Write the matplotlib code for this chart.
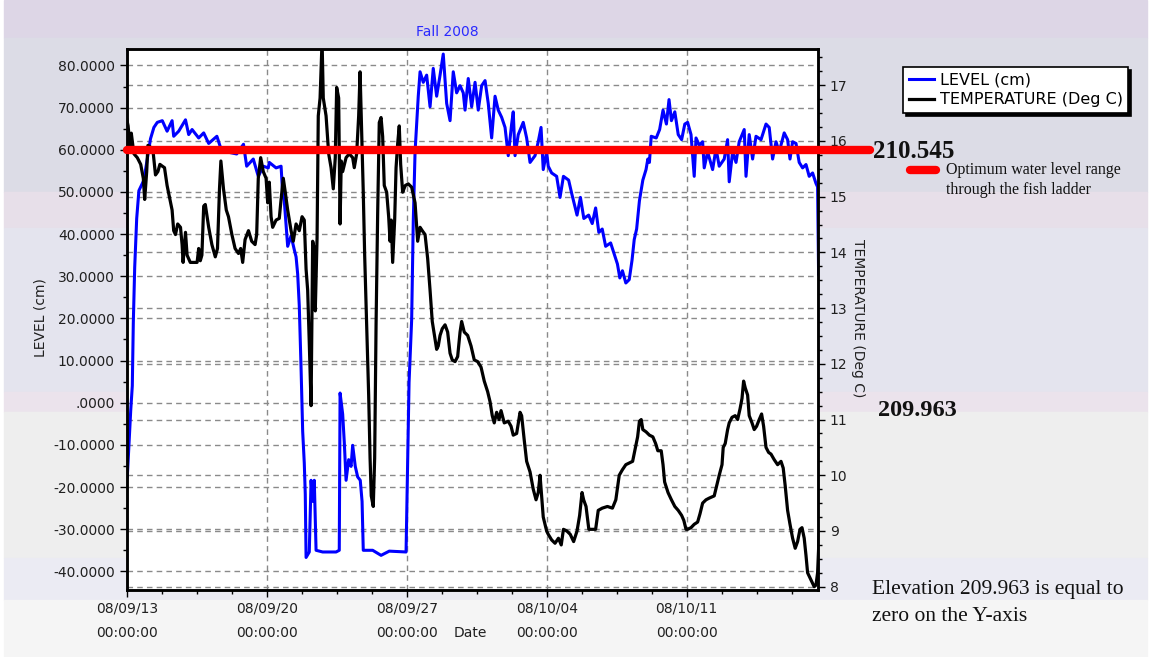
import numpy as np
import pandas as pd
import matplotlib
matplotlib.use('Agg')
import matplotlib.pyplot as plt
import matplotlib.dates as mdates
from matplotlib.patches import Rectangle
from matplotlib.lines import Line2D
from matplotlib.ticker import MultipleLocator, FixedLocator, FuncFormatter
from matplotlib.transforms import blended_transform_factory

W, H = 1151, 657
start = pd.Timestamp('2008-09-13')

# LEVEL (cm): days after 08/09/13 00:00 and value
level_days = [0.03, 0.12, 0.2, 0.28, 0.33, 0.4, 0.5, 0.61, 0.86, 1.03, 1.19, 1.36, 1.53, 1.78,
              2.02, 2.27, 2.35, 2.6, 2.94, 3.1, 3.27, 3.6, 3.85, 4.1, 4.51, 4.68, 5.01, 5.5,
              5.84, 6.0, 6.33, 6.58, 6.83, 7.08, 7.13, 7.47, 7.72, 7.8, 7.88, 8.05, 8.22, 8.38,
              8.47, 8.55, 8.63, 8.72, 8.8, 8.88, 8.93, 8.97, 9.13, 9.22, 9.3, 9.38, 9.47, 9.8,
              10.47, 10.63, 10.67, 10.8, 10.88, 10.97, 11.1, 11.22, 11.3, 11.43, 11.55, 11.68,
              11.77, 11.83, 12.3, 12.72, 13.13, 13.97, 14.05, 14.12, 14.25, 14.33, 14.42, 14.5,
              14.58, 14.67, 14.83, 15.0, 15.17, 15.33, 15.5, 15.67, 15.83, 16.0, 16.17, 16.33,
              16.5, 16.67, 16.83, 16.92, 17.08, 17.25, 17.42, 17.58, 17.75, 17.92, 18.08, 18.25,
              18.42, 18.58, 18.75, 18.92, 19.08, 19.25, 19.33, 19.42, 19.58, 19.83, 20.0, 20.17,
              20.42, 20.58, 20.72, 20.83, 21.0, 21.08, 21.25, 21.5, 21.67, 21.84, 22.1, 22.26,
              22.52, 22.69, 22.86, 23.1, 23.28, 23.45, 23.61, 23.78, 23.95, 24.2, 24.37, 24.54,
              24.66, 24.79, 24.96, 25.13, 25.27, 25.38, 25.5, 25.64, 25.81, 25.97, 26.06, 26.14,
              26.23, 26.48, 26.65, 26.82, 26.99, 27.12, 27.24, 27.41, 27.58, 27.75, 27.91, 28.05,
              28.22, 28.38, 28.47, 28.63, 28.8, 28.88, 29.05, 29.3, 29.47, 29.63, 29.88, 30.05,
              30.13, 30.3, 30.47, 30.63, 30.88, 30.97, 31.13, 31.3, 31.47, 31.72, 31.97, 32.13,
              32.3, 32.47, 32.63, 32.88, 33.05, 33.17, 33.3, 33.47, 33.63, 33.8, 33.97, 34.13,
              34.3, 34.47, 34.55, 34.6]
level_cm = [-17.6, -9.3, -1.9, 4, 18.9, 32.1, 43.7, 50.3, 52.8, 57.8, 62.6, 65.3, 66.5, 66.9,
            64.4, 66.9, 63.2, 64.4, 67.1, 63.6, 64.8, 62.8, 64, 61.5, 63.2, 60.7, 59.5, 59,
            61.3, 56.1, 57.8, 53.7, 56.1, 55.7, 57, 55.7, 56.1, 49.5, 47.9, 37.1, 39.6, 36.3,
            34.6, 30.5, 23, 8.1, -6.8, -14.3, -21.7, -36.7, -35.4, -18.4, -23.4, -18.4, -35, -35.4,
            -35.4, -35, 2.3, -2.7, -9.3, -18.4, -13.5, -15.1, -10.1, -15.1, -17.6, -18.4,
            -23.4, -35, -35, -36.2, -35.2, -35.4, -13.5, 4.8, 19.7, 42.9, 59.5, 66.1,
            72.7, 78.5, 76, 77.7, 70.2, 79.3, 72.7, 77.7, 82.7, 71, 66.9, 78.5,
            73.5, 75.2, 73.5, 69.4, 76.9, 70.2, 76, 69.4, 75.2, 76.4, 71, 62.8,
            72.7, 69.4, 67.7, 65.3, 58.6, 66.1, 69, 58.6, 63.6, 66.5, 62.8, 57,
            58.6, 61.9, 65.3, 55.3, 59.5, 56.1, 54.5, 53.7, 48.7, 53.7, 52.8, 49.5,
            44.5, 48.7, 43.7, 44.5, 42.5, 46.2, 40.4, 41.2, 37.1, 37.9, 35.4, 32.9,
            29.6, 31.3, 28.4, 29.2, 33.8, 38.7, 41.2, 47.9, 52.8, 55.3, 57.8, 57,
            63.2, 62.8, 64.8, 69.4, 66.1, 71.9, 66.9, 69, 63.6, 62.4, 66.1, 66.5,
            63.6, 53.7, 62.8, 61.1, 61.9, 55.7, 59.5, 55.3, 60.3, 56.1, 57.8, 62.4,
            52.4, 59.5, 57, 61.9, 64.8, 53.7, 63.6, 57.8, 63.2, 62.4, 66.1, 65.3,
            57.8, 61.9, 59.5, 64, 62.4, 57.8, 61.9, 61.5, 57, 55.7, 56.5, 53.7,
            54.5, 52, 51.2, 30.5]

# TEMPERATURE (Deg C)
temp_days = [0.0, 0.07, 0.17, 0.23, 0.36, 0.53, 0.7, 0.83, 0.9, 1.0, 1.06, 1.19, 1.33, 1.44,
             1.56, 1.66, 1.77, 1.89, 2.02, 2.16, 2.27, 2.35, 2.44, 2.55, 2.69, 2.77, 2.82, 2.94,
             3.02, 3.18, 3.52, 3.6, 3.68, 3.76, 3.85, 3.93, 4.1, 4.26, 4.43, 4.54, 4.64, 4.71,
             4.84, 4.98, 5.09, 5.26, 5.42, 5.59, 5.7, 5.8, 5.92, 6.09, 6.25, 6.42, 6.5, 6.58,
             6.7, 6.83, 6.97, 7.05, 7.13, 7.22, 7.3, 7.47, 7.63, 7.72, 7.83, 7.93, 8.05, 8.22,
             8.33, 8.47, 8.63, 8.77, 8.88, 8.97, 9.05, 9.13, 9.22, 9.3, 9.38, 9.43, 9.52, 9.58,
             9.67, 9.77, 9.83, 9.97, 10.1, 10.22, 10.33, 10.43, 10.5, 10.6, 10.67, 10.73, 10.8,
             10.97, 11.13, 11.3, 11.38, 11.5, 11.6, 11.67, 11.75, 11.83, 11.9, 12.0, 12.1,
             12.17, 12.23, 12.33, 12.4, 12.47, 12.55, 12.63, 12.72, 12.8, 12.88, 13.0, 13.1,
             13.17, 13.23, 13.3, 13.4, 13.47, 13.55, 13.63, 13.7, 13.8, 13.93, 14.08, 14.25,
             14.42, 14.55, 14.67, 14.78, 14.92, 15.05, 15.17, 15.28, 15.42, 15.5, 15.58, 15.67,
             15.78, 15.92, 16.05, 16.17, 16.28, 16.42, 16.55, 16.67, 16.75, 16.88, 17.05, 17.22,
             17.38, 17.55, 17.72, 17.88, 18.05, 18.17, 18.28, 18.38, 18.5, 18.62, 18.72, 18.88,
             19.08, 19.22, 19.33, 19.5, 19.67, 19.75, 19.88, 20.0, 20.17, 20.33, 20.47, 20.58,
             20.67, 20.75, 20.83, 21.0, 21.08, 21.25, 21.42, 21.59, 21.73, 21.84, 22.01, 22.18,
             22.35, 22.52, 22.65, 22.77, 22.85, 22.97, 23.11, 23.31, 23.45, 23.58, 23.78, 24.04,
             24.29, 24.46, 24.63, 24.79, 24.96, 25.13, 25.3, 25.44, 25.55, 25.64, 25.73, 25.81,
             25.97, 26.14, 26.31, 26.45, 26.56, 26.73, 26.82, 26.9, 27.07, 27.24, 27.41, 27.58,
             27.75, 27.86, 27.97, 28.05, 28.22, 28.38, 28.55, 28.67, 28.8, 28.97, 29.13, 29.38,
             29.5, 29.63, 29.77, 29.83, 29.93, 30.05, 30.13, 30.27, 30.43, 30.55, 30.67, 30.77,
             30.85, 30.93, 31.05, 31.13, 31.27, 31.38, 31.5, 31.63, 31.75, 31.85, 31.97, 32.1,
             32.22, 32.38, 32.55, 32.72, 32.83, 32.93, 33.05, 33.17, 33.3, 33.43, 33.55, 33.67,
             33.77, 33.88, 33.97, 34.05, 34.22, 34.38, 34.47, 34.55, 34.63]
temp_c = [16.39, 16.27, 15.89, 16.14, 15.77, 15.7, 15.58, 15.33, 14.95, 15.45, 15.92, 15.89, 15.77, 15.39,
          15.45, 15.58, 15.55, 15.52, 15.2, 14.95, 14.76, 14.39, 14.32, 14.51, 14.45, 14.14, 13.82, 14.36,
          13.95, 13.82, 13.82, 14.07, 13.85, 13.95, 14.83, 14.86, 14.45, 14.14, 13.92, 14.07, 15.14, 15.64,
          15.14, 14.76, 14.64, 14.32, 14.07, 13.98, 14.07, 13.82, 14.23, 14.39, 14.2, 14.14, 14.32, 15.33,
          15.7, 15.45, 15.33, 14.89, 15.26, 14.64, 14.45, 14.58, 14.61, 14.95, 15.33, 15.08, 14.76, 14.39,
          14.2, 14.51, 14.39, 14.64, 14.58, 13.7, 13.32, 12.38, 11.25, 14.2, 14.07, 12.95, 14.26, 16.45,
          16.77, 17.8, 16.77, 16.45, 15.77, 15.52, 15.14, 15.7, 16.96, 16.77, 14.51, 15.64, 15.45,
          15.7, 15.77, 15.7, 15.52, 15.77, 16.45, 17.24, 16.14, 15.08, 13.95, 12.7, 11.44,
          10.31, 9.63, 9.44, 10.31, 12.7, 14.7, 16.33, 16.42, 16.08, 15.2, 15.08, 14.64,
          14.2, 14.58, 13.82, 14.58, 15.52, 15.95, 16.27, 15.58, 15.08, 15.2, 15.23, 15.17,
          14.89, 14.2, 14.45, 14.39, 14.32, 13.89, 13.32, 12.76, 12.44, 12.26, 12.32, 12.51,
          12.63, 12.7, 12.57, 12.19, 12.07, 12.04, 12.13, 12.57, 12.76, 12.57, 12.51, 12.32,
          12.07, 12.04, 11.94, 11.69, 11.5, 11.32, 11.07, 10.94, 11.13, 11.0, 11.16, 10.94,
          10.97, 10.88, 10.72, 10.75, 11.13, 11.07, 10.63, 10.25, 10.06, 9.75, 9.56, 9.69,
          10.0, 9.63, 9.25, 9.0, 8.94, 8.84, 8.78, 8.87, 8.75, 9.03, 9.0, 8.94,
          8.81, 9.0, 9.28, 9.69, 9.56, 9.44, 9.03, 9.03, 9.03, 9.37, 9.41, 9.44,
          9.41, 9.56, 10.0, 10.1, 10.19, 10.22, 10.25, 10.5, 10.69, 10.97, 11.0, 10.82,
          10.78, 10.72, 10.69, 10.57, 10.44, 10.44, 10.19, 9.88, 9.69, 9.56, 9.44, 9.37,
          9.28, 9.19, 9.03, 9.03, 9.06, 9.12, 9.16, 9.31, 9.5, 9.56, 9.59, 9.63,
          9.81, 10.0, 10.19, 10.5, 10.57, 10.82, 10.94, 11.04, 11.07, 11.0, 11.19, 11.38,
          11.69, 11.57, 11.44, 11.07, 10.94, 10.82, 10.88, 11.0, 11.1, 10.88, 10.5, 10.41,
          10.38, 10.28, 10.19, 10.25, 10.13, 9.81, 9.37, 9.12, 8.87, 8.69, 8.81, 9.03,
          9.06, 8.87, 8.56, 8.25, 8.12, 8.0, 8.03, 8.25, 8.94]

optimum_level = 60.0
level_ticks = np.arange(-40, 81, 10)
temp_ticks = np.arange(8, 18, 1)
xtick_days = [0, 7, 14, 21, 28]

level_t = (start + pd.to_timedelta(level_days, unit='D')).to_pydatetime()
temp_t = (start + pd.to_timedelta(temp_days, unit='D')).to_pydatetime()

fig = plt.figure(figsize=(W / 100, H / 100), dpi=100)
fig.patch.set_facecolor('white')

# background bands
bands = [(0, 38, '#ddd6e6'), (38, 192, '#dcdce6'), (192, 228, '#e7dfe9'), (228, 392, '#e4e4ee'),
         (392, 412, '#ebe3ec'), (412, 558, '#eeeeee'), (558, 600, '#ebebf3'), (600, 657, '#f5f5f5')]
for y0, y1, c in bands:
    fig.patches.append(Rectangle((4 / W, 1 - y1 / H), (W - 8) / W, (y1 - y0) / H,
                                 transform=fig.transFigure, color=c, zorder=-10))

L, R, T, B = 126.7, 818, 49, 589.5
ax = fig.add_axes([L / W, 1 - B / H, (R - L) / W, (B - T) / H])
ax.set_facecolor('white')
ax2 = ax.twinx()
ax2.patch.set_visible(False)

lmin, lmax = -44.3, 83.9
tmin, tmax = 7.95, 17.65
ax.set_ylim(lmin, lmax)
ax2.set_ylim(tmin, tmax)
x0 = start.to_pydatetime()
x1 = (start + pd.Timedelta(days=34.57)).to_pydatetime()
ax.set_xlim(x0, x1)

grid_kw = dict(color='#8a8a8a', lw=1.0, ls=(0, (4, 3)), zorder=0.5)
for v in level_ticks:
    ax.axhline(v, **grid_kw)
tr = blended_transform_factory(ax.transAxes, ax2.transData)
for v in temp_ticks:
    ax.plot([0, 1], [v, v], transform=tr, **grid_kw)
for d in xtick_days:
    ax.axvline((start + pd.Timedelta(days=d)).to_pydatetime(), **grid_kw)

l1, = ax.plot(level_t, level_cm, color='#0000ff', lw=2.2, zorder=2, label='LEVEL (cm)')
l2, = ax2.plot(temp_t, temp_c, color='black', lw=2.3, zorder=2, label='TEMPERATURE (Deg C)')

# optimum line
ax2.plot([0, 1.075], [optimum_level, optimum_level], color='#ff0000', lw=6,
         solid_capstyle='round', transform=blended_transform_factory(ax.transAxes, ax.transData),
         clip_on=False, zorder=5)

# ticks
ax.yaxis.set_major_locator(FixedLocator(level_ticks))
ax.yaxis.set_minor_locator(MultipleLocator(5))
ax.yaxis.set_major_formatter(FuncFormatter(lambda v, p: '.0000' if abs(v) < 1e-9 else f'{v:.4f}'))
ax2.yaxis.set_major_locator(FixedLocator(temp_ticks))
ax2.yaxis.set_minor_locator(MultipleLocator(0.25))
major_x = [mdates.date2num((start + pd.Timedelta(days=d)).to_pydatetime()) for d in xtick_days]
minor_x = [mdates.date2num((start + pd.Timedelta(days=1.75 * k)).to_pydatetime()) for k in range(20)]
ax.xaxis.set_major_locator(FixedLocator(major_x))
ax.xaxis.set_minor_locator(FixedLocator(minor_x))
ax.xaxis.set_major_formatter(mdates.DateFormatter('%y/%m/%d\n%H:%M:%S'))

for a in (ax, ax2):
    a.tick_params(which='major', direction='out', length=5, width=1, colors='black',
                  labelcolor='#202020', labelsize=10)
    a.tick_params(which='minor', direction='out', length=3, width=1, colors='black')
    for s in a.spines.values():
        s.set_color('black')
        s.set_linewidth(1.8)
ax.tick_params(axis='x', pad=4)
for lab in ax.get_xticklabels():
    lab.set_linespacing(1.9)

fig.text(447 / W, 1 - 32 / H, 'Fall 2008', color='#2a2aff', ha='center', va='center', fontsize=10)
fig.text(40 / W, 1 - 318 / H, 'LEVEL (cm)', rotation=90, ha='center', va='center', fontsize=10, color='#202020')
fig.text(858 / W, 1 - 318 / H, 'TEMPERATURE (Deg C)', rotation=270, ha='center', va='center',
         fontsize=10, color='#202020')
fig.text(470 / W, 1 - 633 / H, 'Date', ha='center', va='center', fontsize=10, color='#202020')

serif = ['Liberation Serif', 'DejaVu Serif']
fig.text(873 / W, 1 - 152 / H, '210.545', family=serif, fontweight='bold', fontsize=18,
         ha='left', va='center', color='#111111')
fig.text(878 / W, 1 - 410 / H, '209.963', family=serif, fontweight='bold', fontsize=17.5,
         ha='left', va='center', color='#111111')
fig.lines.append(Line2D([910 / W, 936 / W], [1 - 170 / H, 1 - 170 / H], transform=fig.transFigure,
                        color='#ff0000', lw=6, solid_capstyle='round'))
fig.text(946 / W, 1 - 180 / H, 'Optimum water level range\nthrough the fish ladder', family=serif,
         fontsize=11.5, ha='left', va='center', linespacing=1.25, color='#111111')
fig.text(872 / W, 1 - 603 / H, 'Elevation 209.963 is equal to\nzero on the Y-axis', family=serif,
         fontsize=15.5, ha='left', va='center', linespacing=1.6, color='#111111')

leg = fig.legend(handles=[l1, l2], loc='upper left', bbox_to_anchor=(903 / W, 1 - 67 / H),
                 frameon=True, fancybox=False, shadow={'color': 'black', 'alpha': 1},
                 fontsize=11.5, handlelength=1.6, handletextpad=0.35, borderpad=0.35,
                 labelspacing=0.3, borderaxespad=0)
leg.get_frame().set_edgecolor('black')
leg.get_frame().set_linewidth(1.2)
leg.get_frame().set_facecolor('white')

fig.savefig('out.png', dpi=100)
